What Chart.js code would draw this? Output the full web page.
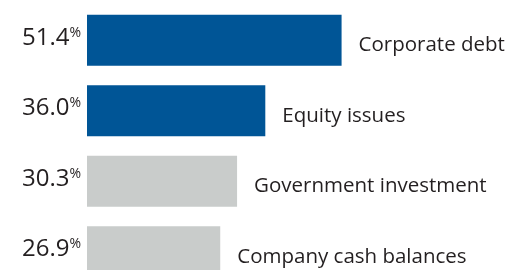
<!DOCTYPE html>
<html>
<head>
<meta charset="utf-8">
<script src="https://cdn.jsdelivr.net/npm/chart.js@4/dist/chart.umd.min.js"></script>
<style>
  html, body { margin: 0; padding: 0; background: #fff; overflow: hidden; }
  #wrap { width: 512px; height: 290px; position: relative; }
</style>
</head>
<body>
<div id="wrap"><canvas id="c" width="512" height="290"></canvas></div>
<script>
const categories = ["Corporate debt", "Equity issues", "Government investment", "Company cash balances"];
const values = [51.4, 36.0, 30.3, 26.9];
const barColors = ["#005596", "#005596", "#c9cccb", "#c9cccb"];

const FONT = "'Open Sans', sans-serif";
const TEXT = "#231f20";

const labelPlugin = {
  id: 'barLabels',
  afterDatasetsDraw(chart) {
    const ctx = chart.ctx;
    const meta = chart.getDatasetMeta(0);
    ctx.save();
    ctx.fillStyle = TEXT;
    ctx.textBaseline = 'alphabetic';
    meta.data.forEach((bar, i) => {
      const base = bar.base;
      const cy = bar.y;
      ctx.font = "14px " + FONT;
      ctx.textAlign = 'right';
      const pctRight = base - 6;
      ctx.fillText('%', pctRight, cy - 3.5);
      const pctW = ctx.measureText('%').width;
      ctx.font = "24px " + FONT;
      ctx.fillText(values[i].toFixed(1), pctRight - pctW, cy + 4.5);
      ctx.font = "20.5px " + FONT;
      ctx.textAlign = 'left';
      ctx.fillText(categories[i], bar.x + 17, cy + 11);
    });
    ctx.restore();
  }
};

new Chart(document.getElementById('c'), {
  type: 'bar',
  data: {
    labels: categories,
    datasets: [{
      data: values,
      backgroundColor: barColors,
      borderWidth: 0,
      barPercentage: 0.723,
      categoryPercentage: 1.0
    }]
  },
  options: {
    indexAxis: 'y',
    responsive: false,
    animation: false,
    layout: { padding: { left: 87, right: 4, top: 5, bottom: 3 } },
    plugins: { legend: { display: false }, tooltip: { enabled: false } },
    scales: {
      x: { display: false, min: 0, max: 85 },
      y: { display: false }
    }
  },
  plugins: [labelPlugin]
});
</script>
</body>
</html>
